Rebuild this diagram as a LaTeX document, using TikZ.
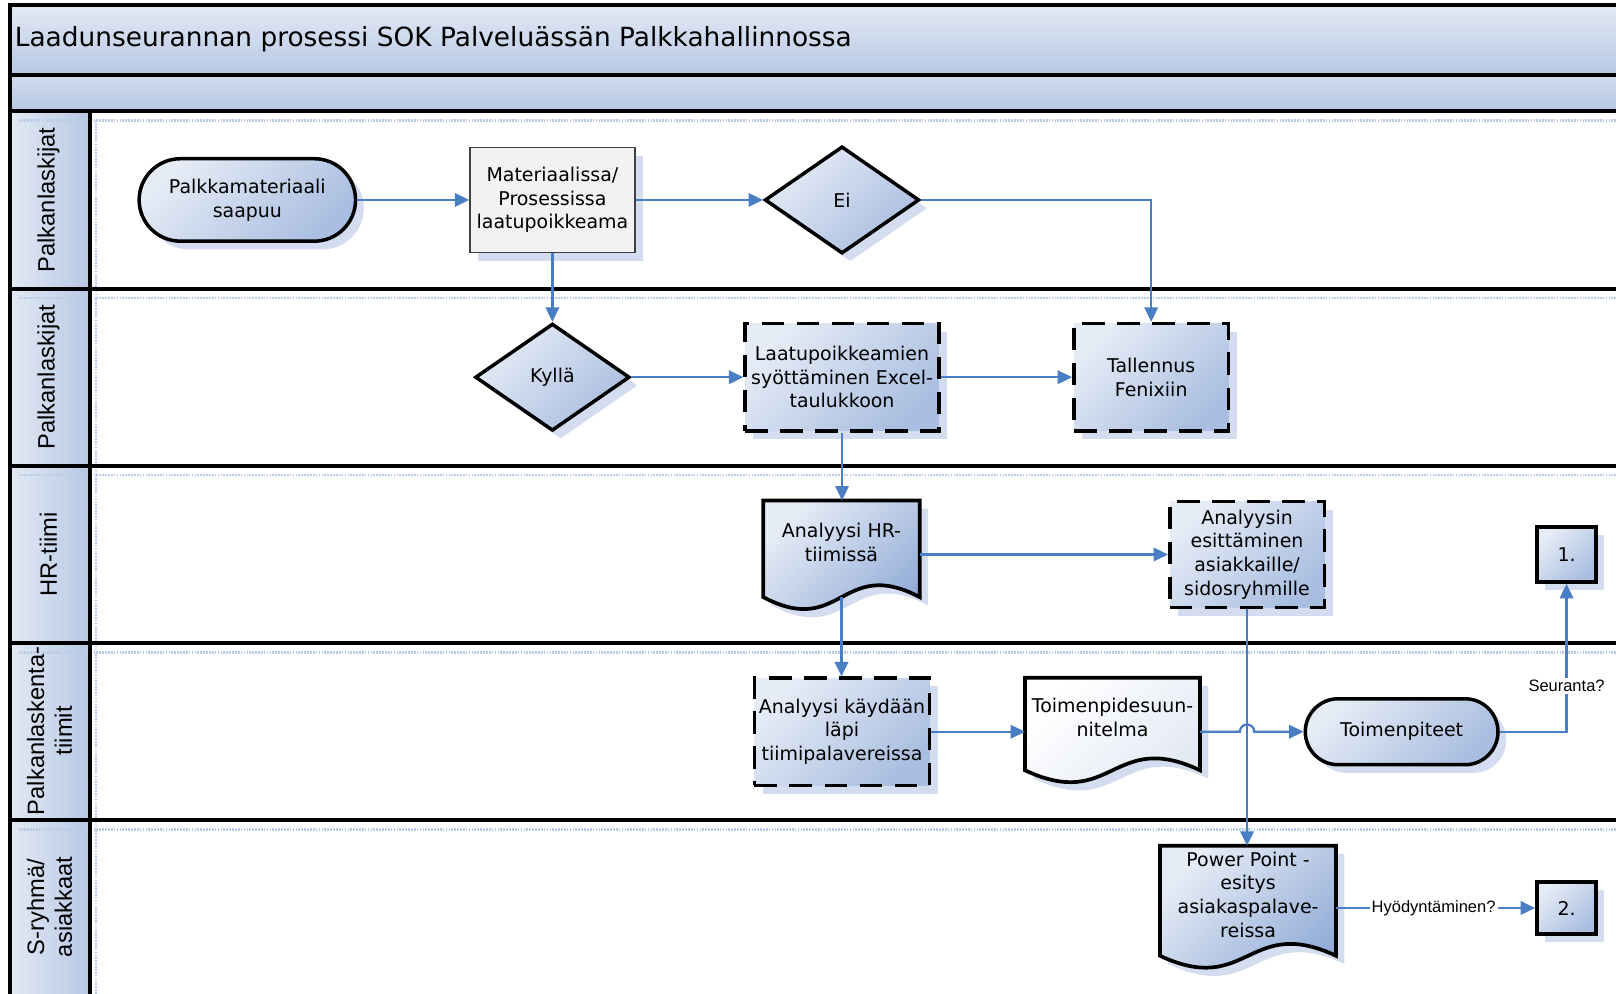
\documentclass[tikz,border=0pt]{standalone}
\usepackage{fontspec}
\newfontfamily\boxfont{DejaVu Sans}
\newfontfamily\arialfont{Liberation Sans}
\usetikzlibrary{shapes.geometric,arrows.meta,shadows,calc}
\definecolor{gL}{HTML}{E6ECF6}
\definecolor{gD}{HTML}{A9BEE0}
\definecolor{gD2}{HTML}{8FAAD6}
\definecolor{bandL}{HTML}{E2E9F4}
\definecolor{bandD}{HTML}{B7C8E4}
\definecolor{conncol}{HTML}{4A7EC4}
\definecolor{shadowc}{HTML}{D3DDEF}
\definecolor{shline}{HTML}{B9CAE7}
\definecolor{matfill}{HTML}{F2F2F2}
\definecolor{docL}{HTML}{FFFFFF}
\definecolor{docD}{HTML}{E0E7F3}
\newcommand\mydoc[3]{%
 \fill[shadowc, transform canvas={xshift=4pt,yshift=-4pt}] (#1.north west) -- (#1.north east) -- (#1.south east) .. controls ($(#1.south)+(0,-40)$) and ($(#1.south)+(0,40)$) .. (#1.south west) -- cycle;
 \path[draw=black, line width=1.8pt, top color=#2, bottom color=#3, shading angle=45] (#1.north west) -- (#1.north east) -- (#1.south east) .. controls ($(#1.south)+(0,-40)$) and ($(#1.south)+(0,40)$) .. (#1.south west) -- cycle;
}
\begin{document}
\begin{tikzpicture}[x=0.5pt,y=-0.5pt,
  boxtext/.style={font=\boxfont\fontsize{9.2}{11.5}\selectfont, align=center},
  shp/.style={boxtext, line width=1.7pt, draw=black, top color=gL, bottom color=gD, shading angle=45, inner sep=0pt,
    general shadow={shadow xshift=4pt, shadow yshift=-4pt, fill=shadowc}},
  term/.style={shp, rectangle, rounded corners=20pt, minimum width=105pt, minimum height=40pt},
  dbox/.style={shp, rectangle, dash pattern=on 11pt off 6pt},
  dia/.style={shp, diamond, minimum width=75pt, minimum height=52pt},
  sq/.style={shp, rectangle, line width=2pt},
  matbox/.style={boxtext, rectangle, draw=black!75, line width=0.7pt, fill=matfill, inner sep=0pt,
    minimum width=80pt, minimum height=51pt, general shadow={shadow xshift=4pt, shadow yshift=-4pt, fill=shadowc}},
  frame/.style={rectangle, inner sep=0pt, draw=none},
  txt/.style={boxtext, inner sep=0pt},
  conn/.style={draw=conncol, line width=1.1pt, -{Triangle[length=7pt,width=6.5pt]}},
  lab/.style={font=\arialfont\fontsize{8}{9.6}\selectfont, fill=white, inner sep=1pt},
  lane/.style={font=\arialfont\fontsize{11.5}{13.5}\selectfont, rotate=90, align=center, inner sep=0pt},
  shl/.style={draw=shline, line width=1.2pt, dash pattern=on 0.8pt off 0.6pt},
  bline/.style={line width=2pt, draw=black}
]
\useasboundingbox (0,0) rectangle (1568,964);
% bands and header column
\path[top color=bandL, bottom color=bandD] (10,5) rectangle (1572,73);
\path[top color=bandL!60!bandD, bottom color=bandD] (10,73) rectangle (1572,108);
\path[left color=bandL, right color=bandD] (10,108) rectangle (87,966);
% lane shadows
\foreach \yy in {117,289,461,633,805} \draw[shl] (18,\yy) -- (1572,\yy);
\draw[shl] (93,117) -- (93,966);
% lane borders
\draw[bline] (10,966) -- (10,5) -- (1572,5);
\foreach \yy in {73,108,280,452,624,796} \draw[bline] (10,\yy) -- (1572,\yy);
\draw[bline] (87,108) -- (87,966);
% title
\node[anchor=west, inner sep=0pt, font=\boxfont\fontsize{12.8}{15}\selectfont] (title) at (14,38) {Laadunseurannan prosessi SOK Palveluässän Palkkahallinnossa};
% lane labels
\node[lane] (l1) at (47,194) {Palkanlaskijat};
\node[lane] (l2) at (47,366) {Palkanlaskijat};
\node[lane] (l3) at (47,538) {HR-tiimi};
\node[lane] (l4) at (48,709) {Palkanlaskenta-\\tiimit};
\node[lane] (l5) at (48,880) {S-ryhmä/\\asiakkaat};
% shapes
\node[term] (start) at (240,194) {Palkkamateriaali\\saapuu};
\node[matbox] (mat) at (536,194) {Materiaalissa/\\Prosessissa\\laatupoikkeama};
\node[dia] (ei) at (817,194) {Ei};
\node[dia] (kylla) at (536,366) {Kyllä};
\node[dbox, minimum width=94pt, minimum height=52pt] (laatu) at (817,366) {Laatupoikkeamien\\syöttäminen Excel-\\taulukkoon};
\node[dbox, minimum width=75pt, minimum height=52pt] (tall) at (1117,366) {Tallennus\\Fenixiin};
\node[frame, minimum width=75.5pt, minimum height=46.5pt] (hr) at (816.5,532.5) {};
\node[dbox, minimum width=75pt, minimum height=51.5pt] (anal) at (1210,538) {Analyysin\\esittäminen\\asiakkaille/\\sidosryhmille};
\node[sq, minimum width=28.5pt, minimum height=26.5pt] (one) at (1520,538) {1.};
\node[dbox, minimum width=85pt, minimum height=52pt] (kay) at (817,710) {Analyysi käydään\\läpi\\tiimipalavereissa};
\node[frame, minimum width=84.5pt, minimum height=44.5pt] (toim) at (1079.5,702.5) {};
\node[term, minimum width=93.5pt, minimum height=32pt, rounded corners=16pt] (toimp) at (1360,710) {Toimenpiteet};
\node[frame, minimum width=85pt, minimum height=53pt] (pp) at (1211,874) {};
\node[sq, minimum width=28.5pt, minimum height=25pt] (two) at (1520,881) {2.};
% document shapes
\mydoc{hr}{gL}{gD2}
\mydoc{toim}{docL}{docD}
\mydoc{pp}{gL}{gD2}
\node[txt] (hrt) at (816.5,526) {Analyysi HR-\\tiimissä};
\node[txt] (toimt) at (1079.5,696) {Toimenpidesuun-\\nitelma};
\node[txt] (ppt) at (1211,868) {Power Point -\\esitys\\asiakaspalave-\\reissa};
% connectors
\coordinate (jmp) at (1210,710);
\draw[conn] (start.east) -- (mat.west);
\draw[conn] (mat.east) -- (ei.west);
\draw[conn] (ei.east) -- (ei.east -| tall.north) -- (tall.north);
\draw[conn] (mat.south) -- (kylla.north);
\draw[conn] (kylla.east) -- (laatu.west);
\draw[conn] (laatu.east) -- (tall.west);
\draw[conn] (laatu.south) -- (laatu.south |- hr.north);
\draw[conn] (hr.east |- anal.west) -- (anal.west);
\draw[conn] (hr.south) -- (hr.south |- kay.north);
\draw[conn] (kay.east) -- (kay.east -| toim.west);
\draw[conn] (anal.south) -- (anal.south |- pp.north);
\draw[conn] (kay.east -| toim.east) -- ([xshift=-3.5pt]jmp) arc[start angle=180,end angle=0,radius=3.5pt] -- (toimp.west);
\draw[conn] (toimp.east) -- (toimp.east -| one.south) -- node[lab, pos=0.31] {Seuranta?} (one.south);
\draw[conn] (pp.east |- two.west) -- node[lab, pos=0.49] {Hyödyntäminen?} (two.west);
\end{tikzpicture}
\end{document}
